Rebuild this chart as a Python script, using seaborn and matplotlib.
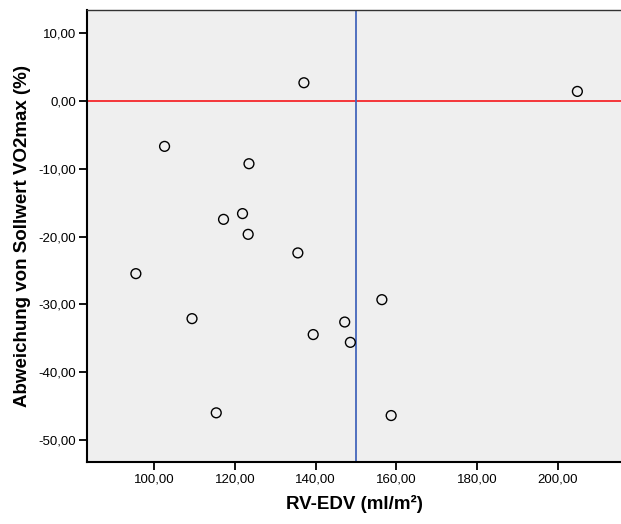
import matplotlib
matplotlib.use("Agg")
import matplotlib.pyplot as plt
import seaborn as sns
import pandas as pd

rv_edv = [137.1, 102.6, 123.5, 117.2, 121.9, 123.3, 135.6, 204.8,
          95.5, 109.4, 139.4, 115.4, 156.4, 147.2, 148.6, 158.7]
abweichung = [2.71, -6.68, -9.24, -17.45, -16.6, -19.66, -22.4, 1.43,
              -25.46, -32.1, -34.45, -46.0, -29.3, -32.6, -35.6, -46.4]
x_ticks = [100, 120, 140, 160, 180, 200]
y_ticks = [10, 0, -10, -20, -30, -40, -50]
ref_y = 0
ref_x = 150
x_label = "RV-EDV (ml/m²)"
y_label = "Abweichung von Sollwert VO2max (%)"

df = pd.DataFrame({"x": rv_edv, "y": abweichung})

sns.set_style("white")
plt.rcParams["font.family"] = ["Liberation Sans", "DejaVu Sans"]
plt.rcParams["text.color"] = "black"
plt.rcParams["axes.labelcolor"] = "black"

fig = plt.figure(figsize=(6.21, 5.24), dpi=100)
ax = fig.add_axes([87/621, 1 - 462.3/524, 1 - 87/621, (462.3 - 10.3)/524])
ax.set_facecolor("#EFEFEF")

ax.axhline(ref_y, color="#F5272C", lw=1.3, zorder=1)
ax.axvline(ref_x, color="#4466BB", lw=1.3, zorder=1)

sns.scatterplot(data=df, x="x", y="y", ax=ax, s=50, marker="o",
                facecolor="none", edgecolor="black", linewidth=1.0, zorder=3)

ax.set_xlim(83.4, 215.6)
ax.set_ylim(-53.3, 13.4)
ax.set_xticks(x_ticks)
ax.set_yticks(y_ticks)
ax.set_xticklabels([f"{v:.2f}".replace(".", ",") for v in x_ticks])
ax.set_yticklabels([f"{v:.2f}".replace(".", ",") for v in y_ticks])
ax.tick_params(axis="both", direction="out", length=6, width=1.3,
               labelsize=9.5, colors="black", left=True, bottom=True, pad=2)

for side in ["left", "bottom"]:
    ax.spines[side].set_color("black")
    ax.spines[side].set_linewidth(1.5)
ax.spines["top"].set_color("#333333")
ax.spines["top"].set_linewidth(1.0)
ax.spines["right"].set_visible(False)

ax.set_xlabel(x_label, fontsize=13.5, fontweight="bold", labelpad=7, color="black")
ax.set_ylabel(y_label, fontsize=13.5, fontweight="bold", labelpad=5, color="black")

fig.savefig("out.png", dpi=100)
